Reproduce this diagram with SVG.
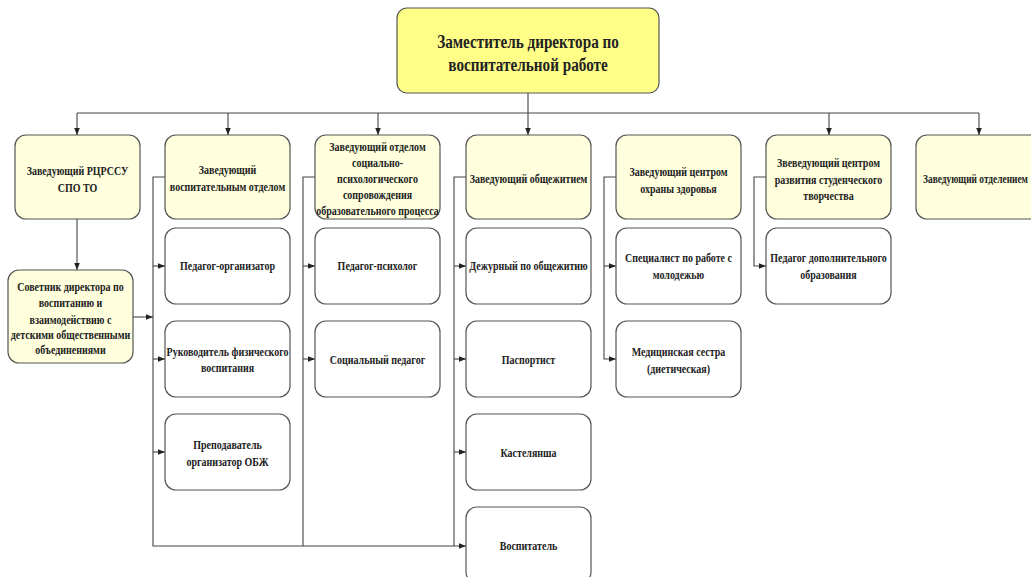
<svg xmlns="http://www.w3.org/2000/svg" width="1031" height="577" viewBox="0 0 1031 577">
<style>
.bg{fill:#ffffff}
.top{fill:#ffff88;stroke:#555555;stroke-width:1.2}
.lvl{fill:#ffffdd;stroke:#555555;stroke-width:1.2}
.ch{fill:#ffffff;stroke:#555555;stroke-width:1.2}
.t{font-family:"Liberation Serif","Times New Roman",serif;font-weight:bold;font-size:12.5px;fill:#222222;text-anchor:middle}
.tt{font-family:"Liberation Serif","Times New Roman",serif;font-weight:bold;font-size:19px;fill:#222222;text-anchor:middle}
.c{fill:none;stroke:#444444;stroke-width:1.1}
</style>
<defs>
<marker id="arr" viewBox="0 0 10 10" refX="10" refY="5" markerWidth="7" markerHeight="7" markerUnits="userSpaceOnUse" orient="auto">
<path d="M0,1 L10,5 L0,9 z" fill="#222222"/>
</marker>
</defs>
<rect class="bg" x="0" y="0" width="1031" height="577"/>
<g id="connectors">
<path class="c" d="M528 93 V135" marker-end="url(#arr)"/>
<path class="c" d="M77 113 H979" stroke-width="1.5"/>
<path class="c" d="M77 113 V135" marker-end="url(#arr)"/>
<path class="c" d="M228 113 V135" marker-end="url(#arr)"/>
<path class="c" d="M378 113 V135" marker-end="url(#arr)"/>
<path class="c" d="M829 113 V135" marker-end="url(#arr)"/>
<path class="c" d="M979 113 V135" marker-end="url(#arr)"/>
<path class="c" d="M77 219 V270" marker-end="url(#arr)"/>
<path class="c" d="M133 317 H153" marker-end="url(#arr)"/>
<path class="c" d="M165 177 H153 V546 H466" marker-end="url(#arr)"/>
<path class="c" d="M153 266 H165" marker-end="url(#arr)"/>
<path class="c" d="M153 359 H165" marker-end="url(#arr)"/>
<path class="c" d="M153 452 H165" marker-end="url(#arr)"/>
<path class="c" d="M315 177 H303 V546"/>
<path class="c" d="M303 266 H315" marker-end="url(#arr)"/>
<path class="c" d="M303 359 H315" marker-end="url(#arr)"/>
<path class="c" d="M466 177 H454 V546"/>
<path class="c" d="M454 266 H466" marker-end="url(#arr)"/>
<path class="c" d="M454 359 H466" marker-end="url(#arr)"/>
<path class="c" d="M454 452 H466" marker-end="url(#arr)"/>
<path class="c" d="M616 177 H604 V359 H616" marker-end="url(#arr)"/>
<path class="c" d="M604 266 H616" marker-end="url(#arr)"/>
<path class="c" d="M766 177 H754 V266 H766" marker-end="url(#arr)"/>
</g>
<g id="n-top">
<rect class="top" x="397" y="8" width="262" height="85" rx="10"/>
<text class="tt" transform="translate(528 0) scale(0.8 1)"><tspan x="0" y="48">Заместитель директора по</tspan><tspan x="0" y="71">воспитательной работе</tspan></text>
</g>
<g id="n-rcrssu">
<rect class="lvl" x="15" y="135" width="125" height="84" rx="11"/>
<text class="t" transform="translate(77.5 0) scale(0.8 1)"><tspan x="0" y="175">Заведующий РЦРССУ</tspan><tspan x="0" y="192">СПО ТО</tspan></text>
</g>
<g id="n-vosp">
<rect class="lvl" x="165" y="135" width="125" height="84" rx="11"/>
<text class="t" transform="translate(227.5 0) scale(0.8 1)"><tspan x="0" y="174">Заведующий</tspan><tspan x="0" y="191">воспитательным отделом</tspan></text>
</g>
<g id="n-socpsy">
<rect class="lvl" x="315" y="135" width="125" height="84" rx="11"/>
<text class="t" transform="translate(377.5 0) scale(0.8 1)"><tspan x="0" y="151">Заведующий отделом</tspan><tspan x="0" y="167">социально-</tspan><tspan x="0" y="183">психологического</tspan><tspan x="0" y="199">сопровождения</tspan><tspan x="0" y="215">образовательного процесса</tspan></text>
</g>
<g id="n-obsh">
<rect class="lvl" x="466" y="135" width="125" height="84" rx="11"/>
<text class="t" transform="translate(528.5 0) scale(0.8 1)"><tspan x="0" y="183">Заведующий общежитием</tspan></text>
</g>
<g id="n-zdor">
<rect class="lvl" x="616" y="135" width="125" height="84" rx="11"/>
<text class="t" transform="translate(678.5 0) scale(0.8 1)"><tspan x="0" y="176">Заведующий центром</tspan><tspan x="0" y="193">охраны здоровья</tspan></text>
</g>
<g id="n-tvor">
<rect class="lvl" x="766" y="135" width="125" height="84" rx="11"/>
<text class="t" transform="translate(828.5 0) scale(0.8 1)"><tspan x="0" y="167">Звеведующий центром</tspan><tspan x="0" y="184">развития студенческого</tspan><tspan x="0" y="200">творчества</tspan></text>
</g>
<g id="n-otd">
<rect class="lvl" x="916" y="135" width="125" height="84" rx="11"/>
<text class="t" transform="translate(975.5 0) scale(0.75 1)"><tspan x="0" y="183">Заведующий отделением</tspan></text>
</g>
<g id="n-sovet">
<rect class="lvl" x="8" y="270" width="125" height="93" rx="11"/>
<text class="t" transform="translate(70.5 0) scale(0.8 1)"><tspan x="0" y="291">Советник директора по</tspan><tspan x="0" y="307">воспитанию и</tspan><tspan x="0" y="324">взаимодействию с</tspan><tspan x="0" y="339">детскими общественными</tspan><tspan x="0" y="354">объединениями</tspan></text>
</g>
<g id="n-pedorg">
<rect class="ch" x="165" y="228" width="125" height="76" rx="11"/>
<text class="t" transform="translate(227.5 0) scale(0.8 1)"><tspan x="0" y="270">Педагог-организатор</tspan></text>
</g>
<g id="n-fiz">
<rect class="ch" x="165" y="321" width="125" height="76" rx="11"/>
<text class="t" transform="translate(227.5 0) scale(0.8 1)"><tspan x="0" y="356">Руководитель физического</tspan><tspan x="0" y="372">воспитания</tspan></text>
</g>
<g id="n-obzh">
<rect class="ch" x="165" y="414" width="125" height="76" rx="11"/>
<text class="t" transform="translate(227.5 0) scale(0.8 1)"><tspan x="0" y="449">Преподаватель</tspan><tspan x="0" y="466">организатор ОБЖ</tspan></text>
</g>
<g id="n-pedpsy">
<rect class="ch" x="315" y="228" width="125" height="76" rx="11"/>
<text class="t" transform="translate(377.5 0) scale(0.8 1)"><tspan x="0" y="270">Педагог-психолог</tspan></text>
</g>
<g id="n-socped">
<rect class="ch" x="315" y="321" width="125" height="76" rx="11"/>
<text class="t" transform="translate(377.5 0) scale(0.8 1)"><tspan x="0" y="364">Социальный педагог</tspan></text>
</g>
<g id="n-dezh">
<rect class="ch" x="466" y="228" width="125" height="76" rx="11"/>
<text class="t" transform="translate(528.5 0) scale(0.8 1)"><tspan x="0" y="270">Дежурный по общежитию</tspan></text>
</g>
<g id="n-pasp">
<rect class="ch" x="466" y="321" width="125" height="76" rx="11"/>
<text class="t" transform="translate(528.5 0) scale(0.8 1)"><tspan x="0" y="364">Паспортист</tspan></text>
</g>
<g id="n-kast">
<rect class="ch" x="466" y="414" width="125" height="76" rx="11"/>
<text class="t" transform="translate(528.5 0) scale(0.8 1)"><tspan x="0" y="457">Кастелянша</tspan></text>
</g>
<g id="n-vospit">
<rect class="ch" x="466" y="507" width="125" height="76" rx="11"/>
<text class="t" transform="translate(528.5 0) scale(0.8 1)"><tspan x="0" y="550">Воспитатель</tspan></text>
</g>
<g id="n-molod">
<rect class="ch" x="616" y="228" width="125" height="76" rx="11"/>
<text class="t" transform="translate(678.5 0) scale(0.8 1)"><tspan x="0" y="262">Специалист по работе с</tspan><tspan x="0" y="279">молодежью</tspan></text>
</g>
<g id="n-med">
<rect class="ch" x="616" y="321" width="125" height="76" rx="11"/>
<text class="t" transform="translate(678.5 0) scale(0.8 1)"><tspan x="0" y="356">Медицинская сестра</tspan><tspan x="0" y="373">(диетическая)</tspan></text>
</g>
<g id="n-doped">
<rect class="ch" x="766" y="228" width="125" height="76" rx="11"/>
<text class="t" transform="translate(828.5 0) scale(0.8 1)"><tspan x="0" y="262">Педагог дополнительного</tspan><tspan x="0" y="279">образования</tspan></text>
</g>
</svg>
